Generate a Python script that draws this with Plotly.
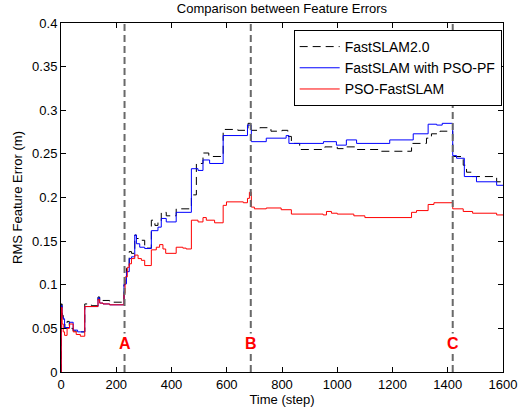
import plotly.graph_objects as go

# ---------------- data ----------------
fast_t = [0, 1, 4, 8, 14, 22, 30, 44, 55, 86, 110, 134, 140, 152, 176, 228, 232, 237, 247, 255,
          267, 273, 285, 303, 327, 340, 351, 363, 381, 417, 472, 490, 514, 535, 587, 640, 677, 689,
          720, 760, 800, 821, 834, 864, 955, 1000, 1030, 1070, 1160, 1269, 1323, 1341, 1372, 1418,
          1456, 1468, 1486, 1577, 1600]
fast_v = [0.0, 0.078, 0.065, 0.055, 0.050, 0.058, 0.050, 0.047, 0.046, 0.078, 0.076, 0.086, 0.081,
          0.082, 0.080, 0.100, 0.110, 0.119, 0.138, 0.136, 0.157, 0.153, 0.151, 0.142, 0.174, 0.168,
          0.172, 0.183, 0.179, 0.187, 0.203, 0.239, 0.251, 0.247, 0.278, 0.277, 0.285, 0.277, 0.280,
          0.276, 0.277, 0.270, 0.262, 0.255, 0.258, 0.256, 0.258, 0.255, 0.253, 0.262, 0.268, 0.273,
          0.276, 0.247, 0.237, 0.229, 0.224, 0.218, 0.218]

pso_pf_t = [0, 1, 4, 8, 13, 31, 44, 60, 86, 134, 140, 152, 176, 228, 237, 247, 255, 267, 273, 285,
            303, 327, 351, 363, 381, 417, 472, 496, 514, 538, 587, 675, 689, 743, 815, 825, 950, 997,
            1033, 1070, 1190, 1275, 1329, 1360, 1380, 1418, 1432, 1460, 1504, 1577, 1600]
pso_pf_v = [0.0, 0.076, 0.063, 0.061, 0.051, 0.057, 0.048, 0.046, 0.075, 0.085, 0.079, 0.078, 0.077,
            0.101, 0.115, 0.130, 0.132, 0.157, 0.147, 0.143, 0.1415, 0.162, 0.166, 0.176, 0.172, 0.183,
            0.233, 0.231, 0.243, 0.239, 0.271, 0.283, 0.264, 0.268, 0.271, 0.262, 0.264, 0.260, 0.266,
            0.262, 0.266, 0.273, 0.284, 0.283, 0.285, 0.248, 0.245, 0.224, 0.218, 0.214, 0.214]

psofs_t = [0, 1, 4, 8, 13, 22, 31, 44, 55, 70, 86, 134, 140, 152, 176, 228, 232, 240, 247, 255, 267,
           279, 291, 303, 327, 345, 357, 369, 379, 417, 441, 453, 472, 496, 514, 526, 556, 587, 599,
           660, 675, 682, 689, 700, 743, 797, 834, 949, 961, 979, 1000, 1060, 1100, 1269, 1287, 1329,
           1350, 1418, 1456, 1490, 1577, 1600]
psofs_v = [0.0, 0.074, 0.055, 0.046, 0.042, 0.050, 0.055, 0.046, 0.043, 0.041, 0.075, 0.083, 0.079,
           0.078, 0.077, 0.090, 0.109, 0.120, 0.124, 0.130, 0.134, 0.130, 0.128, 0.122, 0.140, 0.143,
           0.146, 0.141, 0.136, 0.143, 0.142, 0.141, 0.174, 0.172, 0.177, 0.174, 0.171, 0.191, 0.195,
           0.194, 0.199, 0.206, 0.189, 0.187, 0.188, 0.186, 0.181, 0.180, 0.184, 0.182, 0.181, 0.179,
           0.177, 0.183, 0.185, 0.192, 0.194, 0.187, 0.184, 0.182, 0.180, 0.180]

event_steps = [230, 687, 1418]
event_labels = ["A", "B", "C"]

x_ticks = [0, 200, 400, 600, 800, 1000, 1200, 1400, 1600]
y_ticks = [0, 0.05, 0.1, 0.15, 0.2, 0.25, 0.3, 0.35, 0.4]
y_tick_text = ["0", "0.05", "0.1", "0.15", "0.2", "0.25", "0.3", "0.35", "0.4"]

FONT = "Liberation Sans, Arial, sans-serif"

fig = go.Figure()
fig.add_trace(go.Scatter(x=fast_t, y=fast_v, mode="lines", name="FastSLAM2.0",
                         line=dict(color="black", width=1, dash="8px,5px", shape="hv")))
fig.add_trace(go.Scatter(x=pso_pf_t, y=pso_pf_v, mode="lines", name="FastSLAM with PSO-PF",
                         line=dict(color="rgb(0,0,255)", width=1, shape="hv")))
fig.add_trace(go.Scatter(x=psofs_t, y=psofs_v, mode="lines", name="PSO-FastSLAM",
                         line=dict(color="rgb(255,0,0)", width=1, shape="hv")))

for s, lab in zip(event_steps, event_labels):
    fig.add_shape(type="line", xref="x", yref="paper", x0=s, x1=s, y0=0, y1=1,
                  line=dict(color="rgb(105,105,105)", width=2, dash="7px,4px"), layer="above")
    fig.add_annotation(x=s, y=0.0325, xref="x", yref="y", text=lab, showarrow=False,
                       bgcolor="white", borderpad=1,
                       font=dict(family=FONT, size=16, color="rgb(255,0,0)", weight="bold"))

axis_common = dict(showline=True, linecolor="black", linewidth=1, mirror="ticks", ticks="inside",
                   ticklen=5, tickcolor="black", showgrid=False, zeroline=False, automargin=False,
                   tickfont=dict(family=FONT, size=13, color="black"))

fig.update_layout(
    width=518, height=414,
    margin=dict(l=61, r=15, t=23, b=42),
    paper_bgcolor="white", plot_bgcolor="white",
    title=dict(text="Comparison between Feature Errors", x=0.5, xref="paper", xanchor="center",
               y=1 - 8 / 414, yanchor="middle", automargin=False,
               font=dict(family=FONT, size=13, color="black")),
    xaxis=dict(range=[0, 1600], tickvals=x_ticks, **axis_common,
               title=dict(text="Time (step)", font=dict(family=FONT, size=13, color="black"),
                          standoff=4)),
    yaxis=dict(range=[0, 0.4], tickvals=y_ticks, ticktext=y_tick_text, **axis_common,
               title=dict(text="RMS Feature Error (m)", font=dict(family=FONT, size=13, color="black"),
                          standoff=6)),
    legend=dict(x=0.997, y=0.98, xanchor="right", yanchor="top", bgcolor="white",
                bordercolor="black", borderwidth=1, font=dict(family=FONT, size=14, color="black"),
                tracegroupgap=0, itemwidth=40),
    showlegend=True,
)

fig.write_html("out.html")
